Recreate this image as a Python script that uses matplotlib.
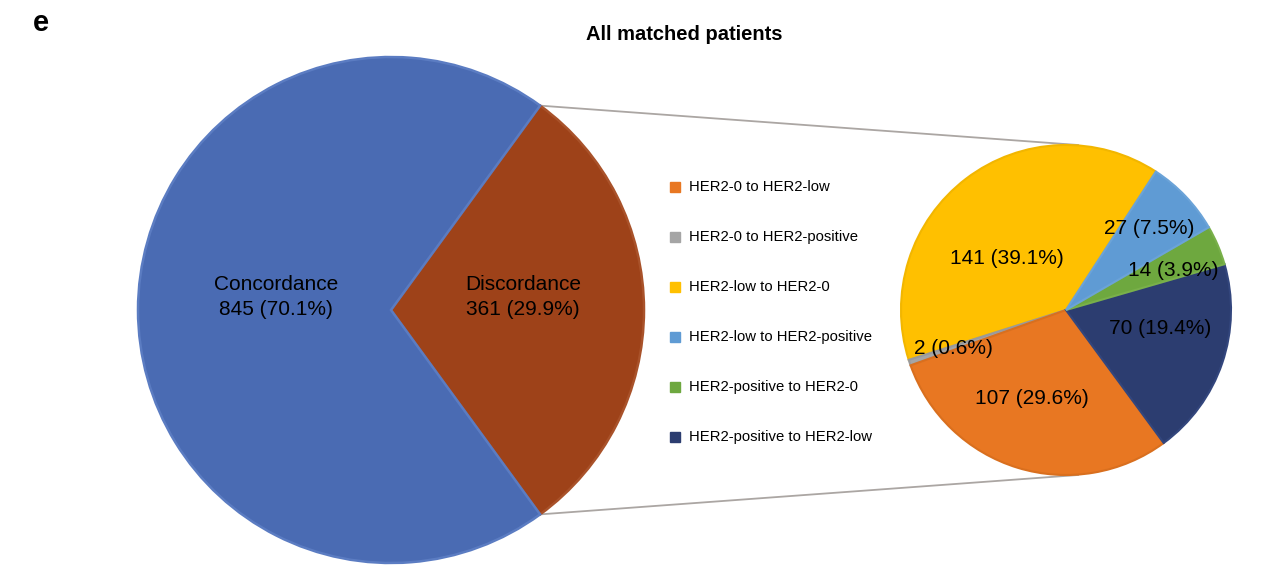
import numpy as np
import matplotlib.pyplot as plt

plt.rcParams['font.family'] = ['Liberation Sans', 'DejaVu Sans']

W, H = 1268, 572

# main pie
main_labels = ["Discordance", "Concordance"]
main_counts = [361, 845]
main_colors = ["#9E4219", "#4A6BB3"]
main_edges = ["#A9522A", "#5B7CC2"]

# breakdown of the discordant cases
sub_labels = ["HER2-low to HER2-0", "HER2-0 to HER2-positive", "HER2-0 to HER2-low",
              "HER2-positive to HER2-low", "HER2-positive to HER2-0", "HER2-low to HER2-positive"]
sub_counts = [141, 2, 107, 70, 14, 27]
sub_colors = ["#FFC000", "#A5A5A5", "#E87722", "#2C3D70", "#6EA83F", "#5F9BD4"]
sub_edges = ["#F2B600", "#9A9A9A", "#D96F1E", "#33467D", "#79B04A", "#6BA3D8"]

legend_order = ["HER2-0 to HER2-low", "HER2-0 to HER2-positive", "HER2-low to HER2-0",
                "HER2-low to HER2-positive", "HER2-positive to HER2-0", "HER2-positive to HER2-low"]


def py(y):
  # pixel row -> data y
  return H - y


fig = plt.figure(figsize=(W / 100, H / 100), dpi=100)
ax = fig.add_axes([0, 0, 1, 1])

big_c = (391, py(310))
big_r = 253
small_c = (1066, py(310))
small_r = 165

half = 360.0 * main_counts[0] / sum(main_counts) / 2
wedges, _ = ax.pie(main_counts, colors=main_colors, startangle=-half, center=big_c,
                   radius=big_r, counterclock=True, frame=True,
                   wedgeprops=dict(linewidth=1.8))
for w, e in zip(wedges, main_edges):
  w.set_edgecolor(e)

swedges, _ = ax.pie(sub_counts, colors=sub_colors, startangle=57, center=small_c,
                    radius=small_r, counterclock=True, frame=True,
                    wedgeprops=dict(linewidth=1.5))
for w, e in zip(swedges, sub_edges):
  w.set_edgecolor(e)

ax.set_xlim(0, W)
ax.set_ylim(0, H)
ax.set_aspect("equal")
ax.axis("off")

# connector lines from the discordance wedge to the breakdown pie
d = wedges[0]
for ang, ty in [(d.theta2, small_c[1] + small_r), (d.theta1, small_c[1] - small_r)]:
  x0 = big_c[0] + big_r * np.cos(np.radians(ang))
  y0 = big_c[1] + big_r * np.sin(np.radians(ang))
  ax.plot([x0, small_c[0] + 12], [y0, ty], color="#ABA6A3", lw=1.3, zorder=0)

total = sum(main_counts)
ax.text(276, py(297), "Concordance\n{} ({:.1f}%)".format(main_counts[1], 100 * main_counts[1] / total),
        ha="center", va="center", fontsize=15, linespacing=1.45)
ax.text(523, py(297), "Discordance\n{} ({:.1f}%)".format(main_counts[0], 100 * main_counts[0] / total),
        ha="center", va="center", fontsize=15, linespacing=1.45)

sub_total = sum(sub_counts)
label_pos = [(1007, 258), (953, 348), (1032, 398), (1160, 328), (1173, 271), (1149, 228)]
for n, (x, y) in zip(sub_counts, label_pos):
  ax.text(x, py(y), "{} ({:.1f}%)".format(n, 100 * n / sub_total), ha="center", va="center",
          fontsize=15)

# legend
for i, name in enumerate(legend_order):
  c = sub_colors[sub_labels.index(name)]
  y = py(187 + 50 * i)
  ax.plot(675, y, marker="s", ms=6.5, color=c, mec=c, ls="none")
  ax.text(689, y, name, ha="left", va="center", fontsize=10.7)

ax.text(684, py(35), "All matched patients", ha="center", va="center", fontsize=14.5,
        fontweight="bold")
ax.text(33, py(23), "e", ha="left", va="center", fontsize=21, fontweight="bold")

fig.savefig("out.png", dpi=100)
